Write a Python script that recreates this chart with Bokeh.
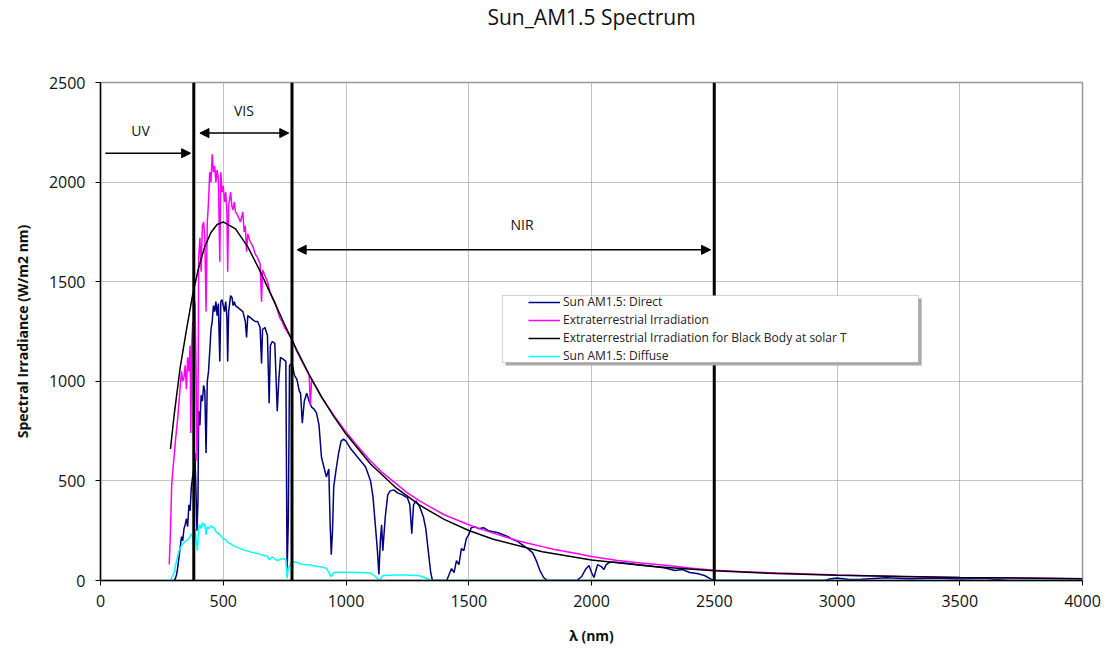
from bokeh.plotting import figure
from bokeh.models import (Range1d, FixedTicker, Span, Arrow, NormalHead, Label,
                          Legend, LegendItem, BoxAnnotation, Title)
from bokeh.embed import file_html
from bokeh.resources import INLINE

# ---------------- data ----------------
title_text = "Sun_AM1.5 Spectrum"
x_label = "λ (nm)"
y_label = "Spectral Irradiance (W/m2 nm)"
x_ticks = [0, 500, 1000, 1500, 2000, 2500, 3000, 3500, 4000]
y_ticks = [0, 500, 1000, 1500, 2000, 2500]

series_names = ["Sun AM1.5: Direct", "Extraterrestrial Irradiation",
                "Extraterrestrial Irradiation for Black Body at solar T",
                "Sun AM1.5: Diffuse"]

# Sun AM1.5 direct
direct_wl = [300, 305, 310, 315, 320, 325, 330, 335, 340, 345, 350, 355, 360, 365, 370, 375, 380,
             384, 388, 393, 397, 400, 405, 410, 415, 420, 425, 430, 435, 440, 445, 450, 455, 460,
             465, 470, 475, 480, 486, 490, 495, 500, 505, 510, 515, 518, 522, 530, 536, 540, 545,
             550, 560, 570, 580, 590, 595, 600, 610, 620, 630, 640, 650, 656, 660, 670, 680, 687,
             692, 700, 710, 720, 726, 733, 745, 755, 760, 765, 770, 780, 790, 800, 810, 815, 822,
             830, 840, 850, 860, 870, 880, 890, 900, 910, 920, 930, 935, 940, 945, 950, 960, 970,
             980, 990, 1000, 1020, 1040, 1060, 1080, 1100, 1110, 1120, 1128, 1134, 1140, 1145,
             1150, 1160, 1170, 1180, 1195, 1210, 1230, 1250, 1260, 1268, 1275, 1285, 1300, 1315,
             1325, 1335, 1345, 1352, 1410, 1420, 1430, 1440, 1450, 1460, 1470, 1480, 1490, 1500,
             1510, 1525, 1540, 1560, 1580, 1600, 1620, 1640, 1660, 1680, 1700, 1720, 1740, 1760,
             1775, 1790, 1805, 1820, 1940, 1960, 1975, 1990, 2000, 2010, 2025, 2040, 2050, 2060,
             2075, 2100, 2150, 2200, 2250, 2300, 2340, 2370, 2400, 2430, 2460, 2485, 2500, 2950,
             2970, 3000, 3050, 3100, 3200, 3300, 3400, 3500, 3600, 3700, 4000]
direct_val = [0, 10, 30, 70, 120, 170, 220, 200, 260, 280, 310, 270, 380, 350, 470, 520, 560,
              640, 500, 250, 400, 850, 780, 930, 900, 980, 950, 640, 1000, 1050, 1150, 1260, 1300, 1380,
              1350, 1400, 1330, 1390, 1100, 1400, 1410, 1380, 1350, 1400, 1320, 1100, 1350, 1430, 1420, 1380, 1400,
              1380, 1370, 1360, 1350, 1300, 1220, 1330, 1320, 1310, 1300, 1300, 1270, 1090, 1260, 1270, 1230, 890,
              1180, 1200, 1190, 850, 1000, 1120, 1110, 1100, 40, 300, 1080, 1090, 1030, 1010, 950, 940, 790,
              900, 940, 900, 870, 860, 840, 780, 620, 570, 520, 560, 300, 130, 250, 470, 560, 640,
              700, 710, 700, 660, 630, 600, 570, 500, 420, 270, 150, 30, 200, 280,
              150, 320, 430, 450, 455, 440, 430, 415, 380, 235, 380, 400, 370, 320,
              260, 150, 40, 0, 0, 30, 60, 40, 100, 80, 160, 150, 210, 230,
              265, 270, 260, 265, 250, 245, 240, 230, 220, 205, 195, 178, 160, 140,
              100, 50, 15, 0, 0, 20, 55, 75, 40, 15, 80, 70, 55, 80,
              92, 92, 85, 78, 72, 63, 50, 55, 40, 35, 25, 8, 0, 0,
              8, 12, 5, 6, 14, 9, 12, 8, 11, 0, 0]

# Extraterrestrial irradiation
etr_wl = [280, 285, 290, 295, 300, 305, 310, 315, 320, 325, 330, 335, 340, 345, 350, 355, 360, 365,
          368, 372, 376, 380, 385, 390, 393, 397, 400, 405, 410, 415, 420, 425, 430, 435, 440, 445,
          450, 455, 460, 465, 470, 475, 480, 486, 490, 495, 500, 505, 510, 515, 518, 522, 530, 535,
          540, 545, 550, 560, 570, 580, 585, 590, 595, 600, 610, 620, 630, 640, 650, 656, 660, 670,
          680, 690, 700, 710, 720, 730, 740, 750, 760, 770, 780, 790, 800, 850, 855, 860, 900, 950,
          1000, 1050, 1100, 1150, 1200, 1250, 1300, 1350, 1400, 1450, 1500, 1550, 1600, 1650, 1700,
          1750, 1800, 1850, 1900, 1950, 2000, 2100, 2200, 2300, 2400, 2500, 2600, 2800, 3000, 3250,
          3500, 3750, 4000]
etr_val = [80, 250, 480, 560, 620, 700, 760, 820, 900, 980, 1050, 1000, 1020, 1080, 960, 1120, 1050, 1180,
           740, 1200, 1300, 1150, 1400, 1000, 600, 800, 1620, 1720, 1550, 1780, 1800, 1720, 1350, 1800, 1900, 2050,
           2000, 2140, 2050, 2080, 2000, 2060, 2020, 1600, 2050, 1950, 1980, 1900, 1950, 1850, 1550, 1880, 1950, 1880,
           1860, 1900, 1850, 1830, 1800, 1850, 1750, 1780, 1650, 1740, 1700, 1680, 1640, 1620, 1590, 1400, 1560, 1530,
           1500, 1450, 1420, 1400, 1360, 1320, 1300, 1270, 1250, 1230, 1210, 1180, 1150, 1030, 880, 1010, 920, 830,
           745, 670, 600, 540, 490, 440, 400, 365, 330, 305, 280, 258, 238, 218, 200,
           185, 170, 156, 144, 133, 120, 102, 88, 76, 63, 52, 45, 36, 27, 20,
           15, 12, 9]

# Black body at solar temperature
bb_wl = [285, 300, 325, 350, 375, 400, 425, 450, 475, 500, 550, 600, 650, 700, 750, 800, 850, 900,
         950, 1000, 1100, 1200, 1300, 1400, 1500, 1600, 1800, 2000, 2250, 2500, 2750, 3000, 3500, 4000]
bb_val = [660, 831, 1073, 1257, 1433, 1572, 1677, 1747, 1787, 1800, 1765, 1675, 1553, 1420, 1285, 1155,
          1034, 923, 824, 735, 585, 469, 378, 307, 251, 207, 144, 103, 70, 49, 35, 26, 15, 9]

# Sun AM1.5 diffuse
diffuse_wl = [285, 300, 310, 320, 330, 340, 350, 360, 370, 375, 380, 385, 390, 395, 400, 405, 410, 415,
              420, 425, 430, 435, 440, 450, 455, 460, 470, 480, 490, 500, 510, 520, 530, 540, 550, 560,
              570, 580, 590, 600, 620, 640, 660, 680, 687, 700, 720, 740, 755, 760, 765, 780, 800, 820,
              850, 880, 900, 920, 940, 950, 970, 1000, 1050, 1100, 1120, 1135, 1150, 1200, 1250, 1300,
              1340, 1350, 4000]
diffuse_val = [0, 40, 100, 150, 175, 190, 200, 210, 235, 220, 180, 260, 200, 150, 270, 280, 260, 290,
               275, 285, 230, 270, 260, 275, 265, 270, 245, 235, 225, 210, 205, 190, 185, 175, 170, 165,
               160, 155, 150, 148, 140, 135, 128, 122, 105, 118, 100, 110, 105, 10, 60, 95, 90, 82,
               78, 72, 68, 62, 20, 40, 42, 42, 40, 38, 20, 0, 25, 28, 27, 24,
               5, 0, 0]

# Band limits and annotations
band_limits = [380, 780, 2500]
arrow_specs = [  # (x_start, x_end, y, both_ends)
    (20, 367, 2145, False),
    (405, 767, 2246, True),
    (801, 2485, 1660, True),
]
band_labels = ["UV", "VIS", "NIR"]
band_label_x = [163, 584, 1717]
band_label_y = [2259, 2359, 1787]

# ---------------- figure ----------------
FONT = "Open Sans"
p = figure(width=1107, height=648, output_backend="svg", toolbar_location=None,
           x_range=Range1d(0, 4000), y_range=Range1d(0, 2500),
           min_border_left=100, min_border_right=25, min_border_top=82, min_border_bottom=68,
           background_fill_color="white", border_fill_color="white")

# spacer between frame and title (keeps the title high above the frame)
p.add_layout(Title(text=" ", text_font_size="1px", standoff=47), "above")

p.title.text = title_text
p.title.align = "center"
p.title.vertical_align = "top"
p.title.standoff = 0
p.title.text_font = FONT
p.title.text_font_size = "21px"
p.title.text_font_style = "normal"
p.title.text_color = "#111111"

p.outline_line_color = "#999999"
p.outline_line_width = 1.5

for ax, ticks in ((p.xaxis, x_ticks), (p.yaxis, y_ticks)):
    ax.ticker = FixedTicker(ticks=ticks)
    ax.axis_line_color = "black"
    ax.axis_line_width = 1.5
    ax.major_tick_in = 0
    ax.major_tick_out = 5
    ax.major_tick_line_color = "black"
    ax.minor_tick_line_color = None
    ax.major_label_text_font = FONT
    ax.major_label_text_font_size = "16px"
    ax.major_label_text_color = "#111111"
    ax.axis_label_text_font = FONT
    ax.axis_label_text_font_size = "14px"
    ax.axis_label_text_font_style = "bold"
    ax.axis_label_text_color = "#111111"

p.xaxis.axis_label = x_label
p.yaxis.axis_label = y_label
p.xaxis.major_label_standoff = 9
p.yaxis.major_label_standoff = 10
p.xaxis.axis_label_standoff = 16
p.yaxis.axis_label_standoff = 14

for g in (p.xgrid, p.ygrid):
    g.grid_line_color = "#888888"
    g.grid_line_dash = "1 1"
    g.grid_line_width = 1

r_direct = p.line(direct_wl, direct_val, line_color="#000080", line_width=1.5)
r_etr = p.line(etr_wl, etr_val, line_color="#FF00FF", line_width=1.5)
r_bb = p.line(bb_wl, bb_val, line_color="black", line_width=1.5)
r_diff = p.line(diffuse_wl, diffuse_val, line_color="#00FFFF", line_width=1.5)

for loc in band_limits:
    p.add_layout(Span(location=loc, dimension="height", line_color="black", line_width=3))

for x0, x1, yv, both in arrow_specs:
    head = NormalHead(size=9, fill_color="black", line_color="black")
    kw = dict(end=head, x_start=x0, x_end=x1, y_start=yv, y_end=yv,
              line_color="black", line_width=1.5)
    if both:
        kw["start"] = NormalHead(size=9, fill_color="black", line_color="black")
    else:
        kw["start"] = None
    p.add_layout(Arrow(**kw))

for t, lx, ly in zip(band_labels, band_label_x, band_label_y):
    p.add_layout(Label(x=lx, y=ly, text=t, text_align="center", text_baseline="middle",
                       text_font=FONT, text_font_size="14px", text_color="#111111"))

# legend frame (box with shadow)
p.add_layout(BoxAnnotation(left=1650, right=3345, bottom=1079, top=1416,
                           fill_color="#aaaaaa", fill_alpha=1, line_color=None, level="annotation"))
p.add_layout(BoxAnnotation(left=1637, right=3332, bottom=1094, top=1431,
                           fill_color="white", fill_alpha=1, line_color="#666666", line_width=1,
                           level="annotation"))

legend = Legend(items=[LegendItem(label=series_names[0], renderers=[r_direct]),
                       LegendItem(label=series_names[1], renderers=[r_etr]),
                       LegendItem(label=series_names[2], renderers=[r_bb]),
                       LegendItem(label=series_names[3], renderers=[r_diff])],
                location=(428, 216), orientation="vertical",
                padding=2, margin=0, spacing=1, label_height=16, glyph_height=16,
                glyph_width=32, label_standoff=3,
                label_text_font=FONT, label_text_font_size="12px", label_text_color="#222222",
                border_line_color=None, background_fill_alpha=0)
p.add_layout(legend)

open("out.html", "w").write(file_html(p, INLINE))
